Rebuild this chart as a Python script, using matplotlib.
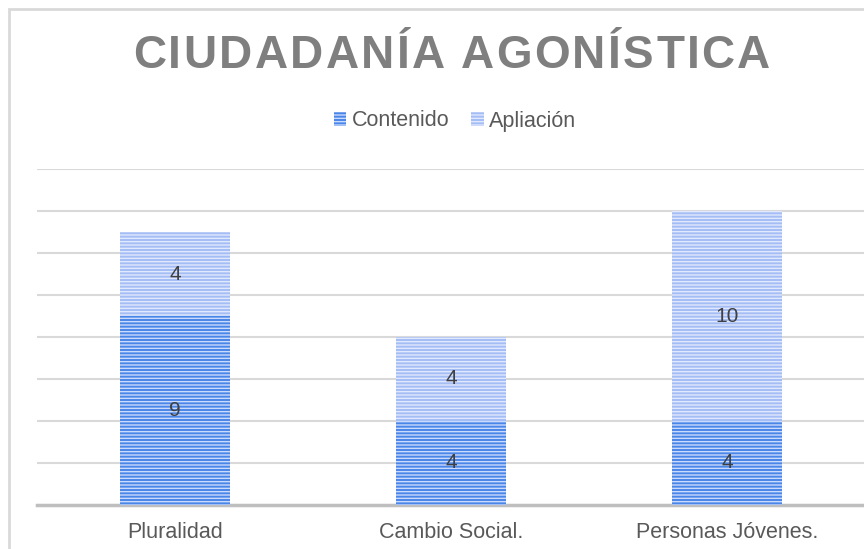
import numpy as np
import matplotlib.pyplot as plt
from matplotlib.patches import Rectangle

categorias = ['Pluralidad', 'Cambio Social.', 'Personas Jóvenes.']
contenido = [9, 4, 4]
apliacion = [4, 4, 10]
titulo = 'CIUDADANÍA AGONÍSTICA'

plt.rcParams['font.family'] = ['Liberation Sans', 'DejaVu Sans']
plt.rcParams['hatch.linewidth'] = 1.0

fig = plt.figure(figsize=(8.64, 5.49), dpi=100)
ax = fig.add_axes([37/864, 44/549, 828/864, 336/549])

x = np.arange(len(categorias))
b1 = ax.bar(x, contenido, 0.4, color='#4a86e8', edgecolor='#c9dafc',
            hatch='-----', linewidth=0, zorder=3, label='Contenido')
b2 = ax.bar(x, apliacion, 0.4, bottom=contenido, color='#a4bdf5',
            edgecolor='#dfe8fd', hatch='-----', linewidth=0, zorder=3,
            label='Apliación')
ax.bar_label(b1, label_type='center', fontsize=15, color='#404040')
ax.bar_label(b2, label_type='center', fontsize=15, color='#404040')

ax.set_xlim(-0.5, 2.5)
ax.set_ylim(0, 16)
ax.set_yticks(np.arange(0, 17, 2))
ax.yaxis.grid(True, color='#d9d9d9', linewidth=1.5, zorder=0)
ax.tick_params(axis='y', length=0, labelleft=False)
ax.tick_params(axis='x', length=0, labelsize=15.5, labelcolor='#595959', pad=12)
ax.set_xticks(x)
ax.set_xticklabels(categorias)
for s in ['top', 'right', 'left']:
    ax.spines[s].set_visible(False)
ax.spines['bottom'].set_color('#bfbfbf')
ax.spines['bottom'].set_linewidth(2.5)
ax.set_axisbelow(True)

# titulo con espaciado entre letras
r = fig.canvas.get_renderer()
x0, x1 = 133, 770
yt = 1 - 56/549
tam = 33
anchos = []
for c in titulo:
    t = fig.text(0, 0, c if c != ' ' else 'n', fontsize=tam, fontweight='bold')
    anchos.append(t.get_window_extent(r).width * (0.4 if c == ' ' else 1))
    t.remove()
extra = ((x1 - x0) - sum(anchos)) / (len(titulo) - 1)
pos = x0
for c, w in zip(titulo, anchos):
    fig.text(pos/864, yt, c, ha='left', va='center', fontsize=tam,
             fontweight='bold', color='#7f7f7f')
    pos += w + extra

ax.legend(loc='center', bbox_to_anchor=(455/864, 1 - 121/549),
          bbox_transform=fig.transFigure, ncol=2, frameon=False, fontsize=15.5,
          labelcolor='#595959', handlelength=0.6, handleheight=0.6,
          handletextpad=0.25, columnspacing=1.0)

fig.patches.append(Rectangle((9/864, -0.1), 1.2, 1 - 9/549 + 0.1,
                             transform=fig.transFigure, fill=False,
                             edgecolor='#d9d9d9', linewidth=2))

fig.savefig('out.png', dpi=100)
